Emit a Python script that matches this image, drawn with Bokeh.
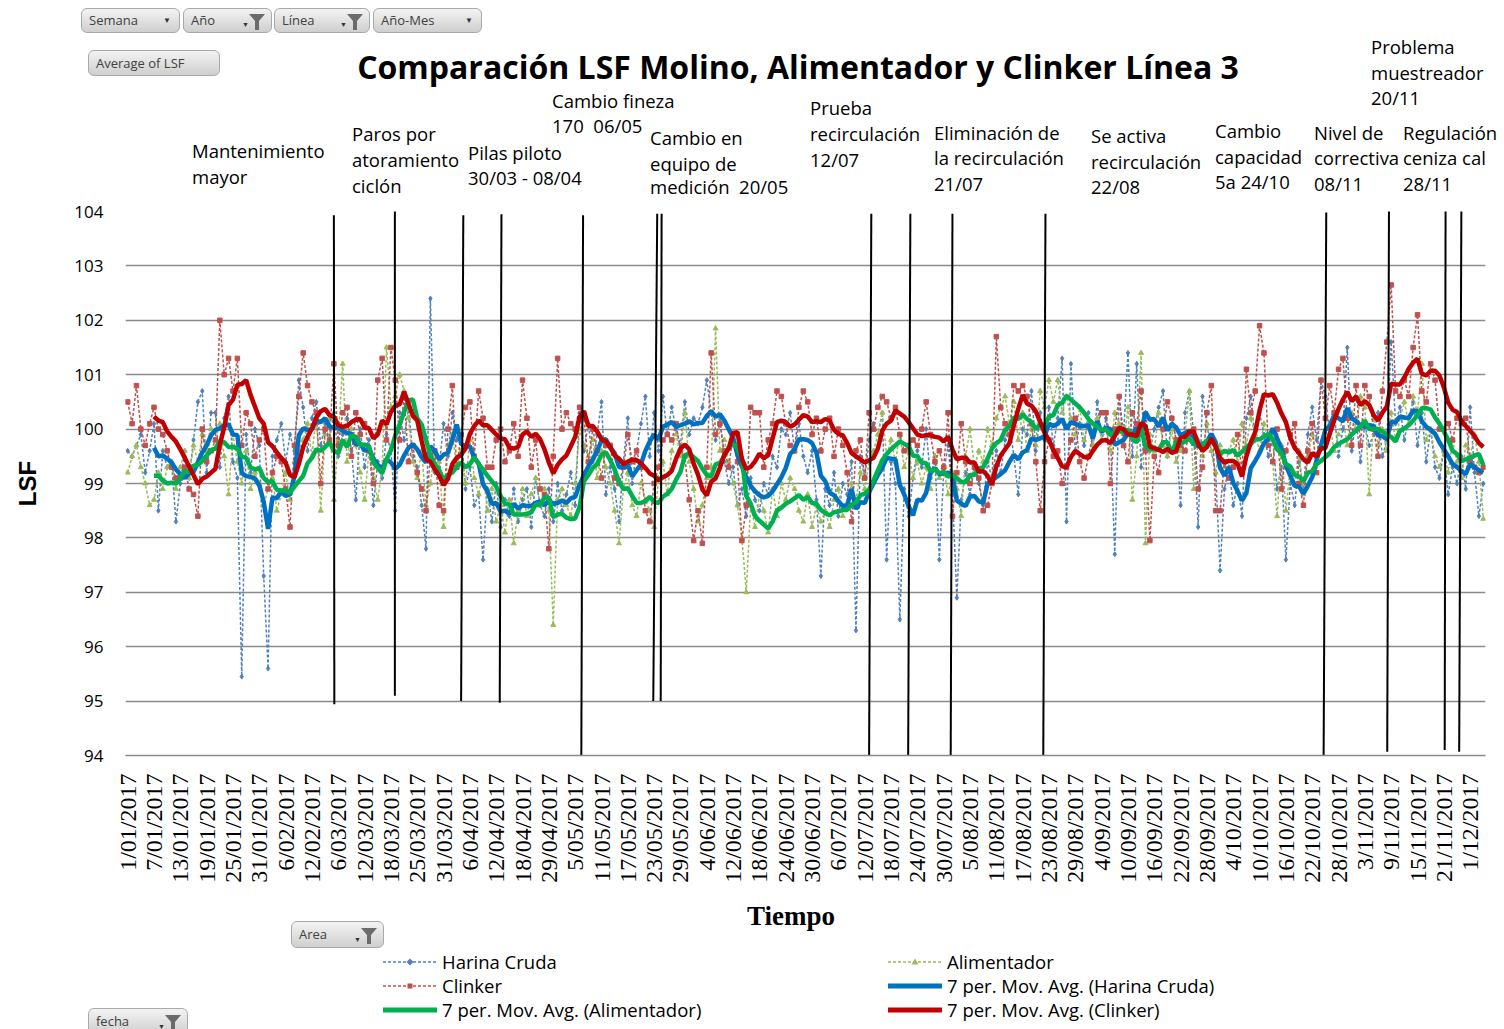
import math
from bokeh.plotting import figure
from bokeh.layouts import column
from bokeh.models import FixedTicker, Range1d, Div
from bokeh.embed import file_html
from bokeh.resources import INLINE

# ---------------- data ----------------
tick_labels = ["1/01/2017", "7/01/2017", "13/01/2017", "19/01/2017", "25/01/2017", "31/01/2017",
               "6/02/2017", "12/02/2017", "6/03/2017", "12/03/2017", "18/03/2017", "25/03/2017",
               "31/03/2017", "6/04/2017", "12/04/2017", "18/04/2017", "29/04/2017", "5/05/2017",
               "11/05/2017", "17/05/2017", "23/05/2017", "29/05/2017", "4/06/2017", "12/06/2017",
               "18/06/2017", "24/06/2017", "30/06/2017", "6/07/2017", "12/07/2017", "18/07/2017",
               "24/07/2017", "30/07/2017", "5/08/2017", "11/08/2017", "17/08/2017", "23/08/2017",
               "29/08/2017", "4/09/2017", "10/09/2017", "16/09/2017", "22/09/2017", "28/09/2017",
               "4/10/2017", "10/10/2017", "16/10/2017", "22/10/2017", "28/10/2017", "3/11/2017",
               "9/11/2017", "15/11/2017", "21/11/2017", "1/12/2017"]
tick_step = 6

harina_cruda = [
    99.6, 99.5, 99.7, 99.9, 99.2, 99.6, 100.1, 98.5, 99.6, 99.3,
    99.4, 98.3, 99.0, 99.6, 99.1, 99.8, 100.5, 100.7, 99.2, 100.3,
    100.3, 99.3, 100.2, 100.6, 99.4, 99.1, 95.45, 99.9, 99.2, 100.0,
    99.7, 97.3, 95.6, 99.5, 99.8, 100.1, 99.4, 99.9, 99.6, 100.9,
    100.4, 99.6, 100.2, 100.5, 99.7, 100.1, 99.8, 100.3, 99.5, 99.9,
    100.2, 99.6, 98.7, 100.0, 99.3, 99.8, 98.6, 99.4, 99.1, 99.9,
    99.6, 98.5, 100.3, 99.8, 100.4, 99.5, 99.3, 98.6, 97.8, 102.4,
    99.2, 99.3, 100.1, 99.5, 100.3, 99.8, 99.9, 98.9, 99.3, 98.6,
    98.8, 97.6, 98.9, 98.3, 99.0, 98.2, 98.7, 98.4, 98.9, 98.3,
    98.7, 98.9, 98.2, 99.1, 98.6, 98.4, 98.9, 98.3, 99.0, 98.5,
    98.8, 99.2, 98.6, 100.4, 99.6, 100.1, 99.4, 99.9, 100.5, 98.8,
    99.3, 98.9, 98.3, 99.4, 100.2, 99.0, 99.6, 100.1, 100.6, 99.5,
    100.3, 99.6, 100.6, 99.9, 100.4, 100.0, 99.7, 100.5, 99.9, 100.2,
    100.1, 100.4, 100.9, 100.3, 99.8, 100.2, 99.4, 99.0, 99.3, 98.6,
    98.9, 98.4, 99.1, 98.7, 98.5, 99.0, 98.8, 99.5, 99.3, 100.0,
    99.9, 100.3, 99.6, 100.1, 99.5, 99.2, 99.6, 98.7, 97.3, 98.9,
    98.6, 99.2, 98.4, 99.0, 98.8, 99.4, 96.3, 99.5, 99.1, 99.8,
    100.1, 99.9, 100.3, 97.6, 99.4, 99.0, 96.5, 98.9, 98.4, 99.1,
    99.6, 99.3, 100.0, 99.1, 99.5, 97.6, 99.2, 99.7, 98.8, 96.9,
    98.7, 99.2, 98.8, 99.3, 99.0, 98.6, 99.4, 99.1, 99.6, 99.2,
    99.8, 100.1, 99.5, 98.8, 100.0, 99.9, 100.7, 99.6, 100.3, 99.8,
    100.4, 99.7, 100.2, 101.3, 98.3, 101.2, 99.6, 100.1, 99.7, 100.3,
    99.6, 100.5, 99.8, 100.2, 99.9, 97.7, 100.6, 99.9, 101.4, 99.5,
    101.2, 99.3, 100.3, 99.6, 100.0, 100.4, 100.7, 99.5, 100.2, 99.8,
    98.6, 100.3, 100.7, 99.9, 98.2, 100.6, 100.1, 99.6, 99.2, 97.4,
    98.9, 99.3, 98.6, 99.0, 98.4, 100.2, 100.6, 99.8, 100.3, 99.9,
    99.5, 99.8, 98.9, 99.3, 97.6, 99.0, 98.6, 99.4, 98.9, 99.9,
    100.4, 99.8, 100.9, 100.6, 99.9, 100.3, 99.5, 100.0, 101.5, 99.6,
    100.2, 99.4, 100.1, 99.7, 99.9, 100.3, 99.5, 99.8, 101.6, 100.1,
    100.4, 99.8, 100.2, 100.5, 99.7, 100.3, 99.4, 100.0, 99.3, 99.1,
    99.6, 98.8, 99.3, 99.0, 99.5, 98.9, 100.4, 99.2, 98.4, 99.0]

alimentador = [
    99.2, 99.5, 99.7, 99.3, 99.0, 98.6, 98.7, 99.2, 98.9, 99.3,
    99.4, 98.9, 99.3, 99.6, 99.1, 99.7, 99.4, 99.9, 99.6, 100.0,
    99.8, 100.1, 99.5, 98.8, 99.9, 99.4, 99.0, 99.6, 98.9, 99.2,
    99.0, 98.6, 98.9, 99.1, 98.5, 98.8, 99.2, 98.7, 99.4, 99.6,
    99.8, 100.1, 99.5, 100.3, 98.5, 99.9, 100.2, 98.7, 99.8, 101.2,
    99.4, 100.0, 99.7, 99.2, 98.7, 99.6, 99.1, 98.7, 99.3, 101.5,
    100.4, 100.6, 101.0, 100.7, 100.2, 99.4, 99.1, 99.6, 98.6, 99.0,
    99.6, 99.4, 98.2, 99.7, 99.9, 99.3, 99.6, 99.0, 99.8, 99.1,
    98.8, 99.2, 98.5, 98.9, 98.3, 98.6, 98.1, 98.7, 97.9, 98.5,
    98.9, 98.4, 98.8, 99.1, 98.6, 98.9, 98.5, 96.4, 98.7, 98.9,
    98.6, 98.4, 99.0, 100.0, 99.7, 99.5, 99.8, 99.1, 99.6, 99.3,
    99.0, 98.5, 97.9, 98.9, 99.2, 98.6, 98.4, 99.0, 98.7, 98.5,
    98.2, 99.1, 99.4, 98.8, 99.6, 99.9, 99.5, 100.3, 99.4, 98.9,
    98.3, 98.6, 99.1, 99.3, 101.85, 99.6, 99.8, 99.4, 99.0, 98.6,
    98.0, 97.0, 98.6, 98.2, 98.8, 98.5, 98.1, 98.9, 98.4, 99.0,
    98.7, 99.1, 98.9, 98.5, 98.3, 98.8, 98.2, 98.6, 98.3, 98.5,
    98.2, 98.7, 98.9, 98.4, 98.6, 99.0, 98.7, 99.2, 98.9, 99.4,
    99.6, 99.9, 100.3, 99.5, 99.8, 99.4, 99.9, 99.3, 99.6, 99.1,
    99.4, 99.0, 99.3, 98.9, 99.5, 99.1, 99.3, 98.8, 99.2, 98.9,
    98.4, 99.5, 100.0, 99.3, 99.6, 99.4, 100.0, 99.7, 100.2, 100.4,
    100.6, 100.1, 100.5, 99.8, 100.3, 99.6, 100.0, 99.7, 100.7, 100.4,
    100.9, 100.5, 100.9, 100.3, 100.6, 100.2, 99.9, 100.4, 99.8, 100.1,
    99.7, 100.2, 99.8, 100.0, 99.6, 100.3, 100.1, 99.7, 100.4, 98.7,
    99.5, 101.4, 97.9, 99.9, 99.6, 100.3, 99.7, 99.5, 100.0, 99.4,
    99.6, 99.9, 100.7, 98.9, 99.8, 99.5, 100.1, 99.6, 99.2, 99.7,
    99.3, 99.6, 99.8, 99.4, 100.1, 99.7, 100.2, 99.9, 99.6, 100.1,
    99.8, 99.4, 98.4, 99.7, 98.5, 99.3, 99.0, 99.6, 98.8, 99.5,
    99.9, 99.4, 99.7, 99.5, 100.1, 99.6, 99.9, 100.2, 99.7, 100.3,
    100.0, 100.6, 100.4, 98.8, 100.2, 99.7, 100.0, 99.6, 100.3, 99.8,
    100.2, 100.5, 100.1, 100.6, 100.3, 101.2, 99.8, 100.0, 99.5, 99.3,
    99.6, 99.2, 99.8, 99.4, 99.1, 99.7, 99.5, 99.9, 99.4, 98.35]

clinker = [
    100.5, 100.1, 100.8, 100.0, 99.7, 100.1, 100.4, 100.0, 99.9, 99.6,
    99.3, 99.1, 99.1, 99.3, 98.9, 98.8, 98.4, 100.0, 99.4, 99.6,
    99.8, 102.0, 101.0, 101.3, 100.7, 101.3, 99.7, 100.3, 100.1, 99.5,
    99.8, 100.0, 98.9, 99.2, 99.5, 99.4, 98.9, 98.2, 99.7, 100.6,
    101.4, 100.8, 100.5, 100.3, 99.0, 100.0, 99.8, 101.2, 99.7, 100.3,
    100.4, 99.5, 100.3, 99.9, 100.1, 99.6, 99.0, 100.9, 101.3, 99.8,
    101.5, 100.9, 99.8, 100.6, 99.4, 99.7, 99.2, 98.9, 98.5, 99.5,
    99.6, 98.6, 98.5, 100.0, 100.8, 99.3, 99.9, 100.4, 100.5, 99.5,
    100.7, 100.2, 99.3, 99.3, 99.8, 100.0, 99.4, 99.6, 100.1, 99.5,
    100.9, 100.2, 99.3, 99.8, 98.9, 98.8, 97.8, 99.5, 101.3, 100.0,
    100.3, 100.1, 100.0, 100.4, 100.2, 99.4, 100.0, 99.6, 99.1, 99.7,
    99.7, 99.1, 99.0, 99.3, 99.9, 99.4, 99.6, 99.3, 98.5, 98.3,
    99.0, 99.3, 99.8, 99.9, 99.8, 100.1, 99.6, 99.5, 98.7, 97.95,
    98.5, 97.9, 99.3, 101.4, 99.9, 100.1, 99.6, 99.3, 99.9, 99.4,
    97.95, 98.6, 100.4, 100.3, 100.3, 99.3, 99.8, 100.1, 100.7, 100.6,
    100.1, 99.7, 99.6, 100.4, 100.7, 100.5, 99.9, 100.2, 99.6, 100.0,
    100.2, 99.5, 100.0, 99.7, 99.2, 98.3, 99.6, 99.8, 99.1, 100.3,
    100.0, 100.4, 100.6, 100.5, 100.2, 100.4, 99.9, 99.6, 99.7, 99.8,
    99.7, 100.0, 100.5, 99.9, 99.4, 99.6, 99.3, 100.3, 98.4, 99.2,
    100.1, 99.4, 99.0, 99.3, 99.1, 98.5, 98.6, 99.0, 101.7, 100.4,
    100.1, 99.9, 100.8, 100.7, 100.8, 100.6, 100.1, 99.4, 98.5, 99.4,
    99.8, 99.5, 99.6, 99.0, 99.3, 99.8, 100.2, 99.4, 99.1, 99.5,
    99.9, 100.1, 100.3, 100.3, 99.0, 100.0, 100.6, 99.7, 99.4, 100.3,
    100.1, 100.7, 99.6, 97.95, 99.5, 99.2, 100.0, 100.5, 100.2, 99.8,
    99.7, 99.6, 99.9, 100.0, 98.9, 99.3, 100.3, 100.8, 98.5, 98.5,
    99.4, 99.1, 99.3, 99.9, 99.2, 101.1, 100.3, 100.7, 101.9, 101.4,
    99.7, 99.4, 100.0, 98.9, 99.6, 99.9, 100.1, 99.0, 98.6, 99.6,
    100.1, 99.2, 100.9, 100.2, 100.8, 100.3, 101.1, 101.3, 100.2, 99.7,
    100.8, 99.7, 100.8, 100.6, 100.0, 99.5, 100.7, 101.6, 102.65, 100.7,
    100.6, 100.9, 100.6, 101.5, 102.1, 100.7, 100.5, 101.2, 100.9, 100.0,
    100.0, 100.1, 99.8, 100.2, 100.1, 100.2, 99.4, 99.3, 99.2, 99.3]

ma_period = 7

# event markers: (x at top, x at bottom, LSF at top, LSF at bottom) in category units
event_lines = [
    (47.0, 47.1, 103.93, 94.94), (60.9, 60.9, 104.03, 95.10), (76.5, 76.0, 103.93, 95.00),
    (85.2, 84.8, 103.95, 94.97), (103.8, 103.4, 103.93, 93.97), (120.7, 119.8, 103.96, 95.00),
    (121.7, 121.5, 103.96, 95.00), (169.5, 169.0, 103.96, 94.00), (178.4, 177.9, 103.96, 94.00),
    (188.0, 187.6, 103.96, 94.00), (209.2, 208.7, 103.96, 94.00), (273.2, 272.6, 103.98, 94.00),
    (287.5, 287.1, 104.03, 94.07), (300.4, 300.2, 104.08, 94.10), (304.0, 303.5, 104.03, 94.07)]

# annotation text blocks: (left x px, [(line text, centre y px), ...]) in page pixels
notes = [
    (192, [("Mantenimiento", 151), ("mayor", 177)]),
    (352, [("Paros por", 134), ("atoramiento", 160), ("ciclón", 186)]),
    (468, [("Pilas piloto", 153), ("30/03 - 08/04", 178)]),
    (552, [("Cambio fineza", 101), ("170&nbsp; 06/05", 126)]),
    (650, [("Cambio en", 138), ("equipo de", 164), ("medición&nbsp; 20/05", 187)]),
    (810, [("Prueba", 108), ("recirculación", 134), ("12/07", 160)]),
    (934, [("Eliminación de", 133), ("la recirculación", 158), ("21/07", 184)]),
    (1091, [("Se activa", 136), ("recirculación", 162), ("22/08", 187)]),
    (1215, [("Cambio", 131), ("capacidad", 157), ("5a 24/10", 182)]),
    (1314, [("Nivel de", 133), ("correctiva", 158), ("08/11", 184)]),
    (1403, [("Regulación", 133), ("ceniza cal", 158), ("28/11", 184)]),
    (1371, [("Problema", 47), ("muestreador", 73), ("20/11", 98)]),
]

# pivot field buttons: (text, left, top, width, height, icon) in page pixels
top_buttons = [("Semana", 81, 8, 99, 25, "arrow"), ("Año", 183, 8, 89, 25, "funnel"),
               ("Línea", 274, 8, 96, 25, "funnel"), ("Año-Mes", 373, 8, 109, 25, "arrow"),
               ("Average of LSF", 88, 50, 132, 26, None)]
bottom_buttons = [("Area", 291, 916, 93, 27, "funnel"), ("fecha", 88, 1003, 100, 27, "funnel")]

title_text = "Comparación LSF Molino, Alimentador y Clinker Línea 3"
x_title = "Tiempo"
y_title = "LSF"

series_names = ["Harina Cruda", "Alimentador", "Clinker"]
ma_names = ["7 per. Mov. Avg. (Harina Cruda)", "7 per. Mov. Avg. (Alimentador)",
            "7 per. Mov. Avg. (Clinker)"]

# ---------------- layout constants (page pixels, page has no margin) ----------------
n = len(harina_cruda)
assert n == len(alimentador) == len(clinker) == 310
x = list(range(n))

W = 1500
HEAD_H = 199
FL, FW, FH = 125, 1360, 544
MAIN_TOP, MAIN_BOTTOM = 12, 125
MAIN_H = MAIN_TOP + FH + MAIN_BOTTOM
FOOT_TOP = HEAD_H + MAIN_H          # page y where the footer starts
FOOT_H = 1026 - FOOT_TOP

hc_col, al_col, cl_col = "#4F81BD", "#9BBB59", "#C0504D"
ma_h_col, ma_a_col, ma_c_col = "#0070C0", "#00B050", "#C00000"
NOTE_PX = 18.5


def moving_avg(v, k):
    xs, ys = [], []
    for i in range(k - 1, len(v)):
        xs.append(i)
        ys.append(sum(v[i - k + 1:i + 1]) / k)
    return xs, ys


# ---------------- html helpers for header / footer ----------------
def text_span(left, cy, txt, size=NOTE_PX, font="Open Sans", bold=False, lh=18):
    w = "font-weight:bold;" if bold else ""
    return (f'<span style="position:absolute;left:{left}px;top:{cy - lh / 2:.1f}px;'
            f"font-family:'{font}';font-size:{size}px;line-height:{lh}px;white-space:nowrap;"
            f'color:#000;{w}">{txt}</span>')


def centered_span(cx, cy, txt, size, font, bold=True, lh=30):
    w = "font-weight:bold;" if bold else ""
    return (f'<span style="position:absolute;left:{cx}px;transform:translateX(-50%);'
            f"top:{cy - lh / 2:.1f}px;font-family:'{font}';font-size:{size}px;line-height:{lh}px;"
            f'white-space:nowrap;color:#000;{w}">{txt}</span>')


def button_html(txt, left, top, w, h, icon):
    ic = ""
    if icon == "arrow":
        ic = (f'<span style="position:absolute;right:8px;top:0;line-height:{h - 2}px;'
              f'font-size:8px;color:#333;">&#9660;</span>')
    elif icon == "funnel":
        ic = (f'<svg style="position:absolute;right:6px;top:{(h - 18) / 2:.1f}px" width="16" '
              f'height="18"><polygon points="0,1 16,1 10,8 10,17 6,17 6,8" fill="#6b6b6b"/></svg>'
              f'<span style="position:absolute;right:22px;top:{h / 2:.0f}px;font-size:7px;'
              f'line-height:7px;color:#333;">&#9660;</span>')
    return (f'<div style="position:absolute;left:{left}px;top:{top}px;width:{w}px;height:{h}px;'
            f'box-sizing:border-box;border:1px solid #a9a9a9;border-radius:6px;'
            f'background:linear-gradient(#f3f3f3,#cfcfcf);">'
            f'<span style="position:absolute;left:7px;top:0;line-height:{h - 2}px;'
            f"font-family:'Open Sans';font-size:13px;color:#404040;white-space:nowrap;\">{txt}</span>"
            f'{ic}</div>')


def swatch(left, cy, color, width, dash=None, marker=None):
    d = f' stroke-dasharray="{dash}"' if dash else ""
    mk = ""
    if marker == "diamond":
        mk = f'<path d="M27 3.5 L30.5 7 L27 10.5 L23.5 7 Z" fill="{color}"/>'
    elif marker == "square":
        mk = f'<rect x="24.5" y="4.5" width="5" height="5" fill="{color}"/>'
    elif marker == "triangle":
        mk = f'<path d="M27 3.5 L30.5 9.5 L23.5 9.5 Z" fill="{color}"/>'
    return (f'<svg style="position:absolute;left:{left}px;top:{cy - 7}px" width="54" height="14">'
            f'<line x1="0" y1="7" x2="54" y2="7" stroke="{color}" stroke-width="{width}"{d}/>'
            f'{mk}</svg>')


def strip(height, parts):
    html = (f'<div style="position:relative;width:{W}px;height:{height}px;overflow:hidden;'
            f'background:#fff;">' + "".join(parts) + "</div>")
    return Div(text=html, width=W, height=height, margin=0)


# ---------------- header ----------------
hp = []
for txt, left, top, w, h, icon in top_buttons:
    hp.append(button_html(txt, left, top, w, h, icon))
hp.append(centered_span(798, 67, title_text, 32, "Open Sans"))
for left, lines in notes:
    for txt, yy in lines:
        hp.append(text_span(left, yy, txt))
head = strip(HEAD_H, hp)

# ---------------- main chart ----------------
p = figure(frame_width=FW, frame_height=FH, x_range=Range1d(-0.5, n - 0.5), y_range=Range1d(94, 104),
           output_backend="svg", toolbar_location=None,
           min_border_left=FL, min_border_top=MAIN_TOP, min_border_right=W - FL - FW,
           min_border_bottom=MAIN_BOTTOM)
p.outline_line_color = None
p.background_fill_color = "white"
p.border_fill_color = "white"
p.xgrid.grid_line_color = None
p.ygrid.grid_line_color = "#8a8a8a"
p.ygrid.grid_line_width = 1.6

ya = p.yaxis[0]
ya.ticker = FixedTicker(ticks=list(range(94, 105)))
ya.axis_line_color = None
ya.major_tick_line_color = None
ya.minor_tick_line_color = None
ya.major_label_text_font = "Open Sans"
ya.major_label_text_font_size = "17px"
ya.major_label_text_color = "#000000"
ya.major_label_standoff = 16
ya.axis_label = y_title
ya.axis_label_text_font = "Liberation Sans"
ya.axis_label_text_font_style = "bold"
ya.axis_label_text_font_size = "24px"
ya.axis_label_text_color = "#000000"
ya.axis_label_standoff = 30

xa = p.xaxis[0]
ticks = [i * tick_step for i in range(len(tick_labels))]
xa.ticker = FixedTicker(ticks=ticks)
xa.major_label_overrides = {t: lab for t, lab in zip(ticks, tick_labels)}
xa.major_label_orientation = math.pi / 2
xa.major_label_text_font = "Liberation Serif"
xa.major_label_text_font_size = "24px"
xa.major_label_text_color = "#000000"
xa.major_label_standoff = 12
xa.major_tick_line_color = None
xa.minor_tick_line_color = None
xa.axis_line_color = "#8a8a8a"
xa.axis_line_width = 1.6

p.line(x, harina_cruda, line_color=hc_col, line_width=1.5, line_dash="3 2")
p.scatter(x, harina_cruda, marker="diamond", size=5, fill_color=hc_col, line_color=hc_col)
p.line(x, alimentador, line_color=al_col, line_width=1.5, line_dash="3 2")
p.scatter(x, alimentador, marker="triangle", size=5, fill_color=al_col, line_color=al_col)
p.line(x, clinker, line_color=cl_col, line_width=1.5, line_dash="3 2")
p.scatter(x, clinker, marker="square", size=4.5, fill_color=cl_col, line_color=cl_col)

for series, col in ((harina_cruda, ma_h_col), (alimentador, ma_a_col), (clinker, ma_c_col)):
    mx, my = moving_avg(series, ma_period)
    p.line(mx, my, line_color=col, line_width=4.5)

p.segment(x0=[e[0] for e in event_lines], y0=[e[2] for e in event_lines],
          x1=[e[1] for e in event_lines], y1=[e[3] for e in event_lines],
          line_color="#000000", line_width=2)

# ---------------- footer: axis title, legend, buttons ----------------
fp = [centered_span(791, 911 - FOOT_TOP, x_title, 27, "Liberation Serif")]
for txt, left, top, w, h, icon in bottom_buttons:
    fp.append(button_html(txt, left, top - FOOT_TOP, w, h, icon))
legend_entries = [
    (383, 957, series_names[0], hc_col, 1.5, "3 2", "diamond"),
    (888, 957, series_names[1], al_col, 1.5, "3 2", "triangle"),
    (383, 981, series_names[2], cl_col, 1.5, "3 2", "square"),
    (888, 981, ma_names[0], ma_h_col, 5, None, None),
    (383, 1005, ma_names[1], ma_a_col, 5, None, None),
    (888, 1005, ma_names[2], ma_c_col, 5, None, None),
]
for left, cy, name, col, lw, dash, mk in legend_entries:
    fp.append(swatch(left, cy - FOOT_TOP, col, lw, dash, mk))
    fp.append(text_span(left + 59, cy - FOOT_TOP, name))
foot = strip(FOOT_H, fp)

layout = column(head, p, foot, spacing=0)
open("out.html", "w").write(file_html(layout, INLINE))
